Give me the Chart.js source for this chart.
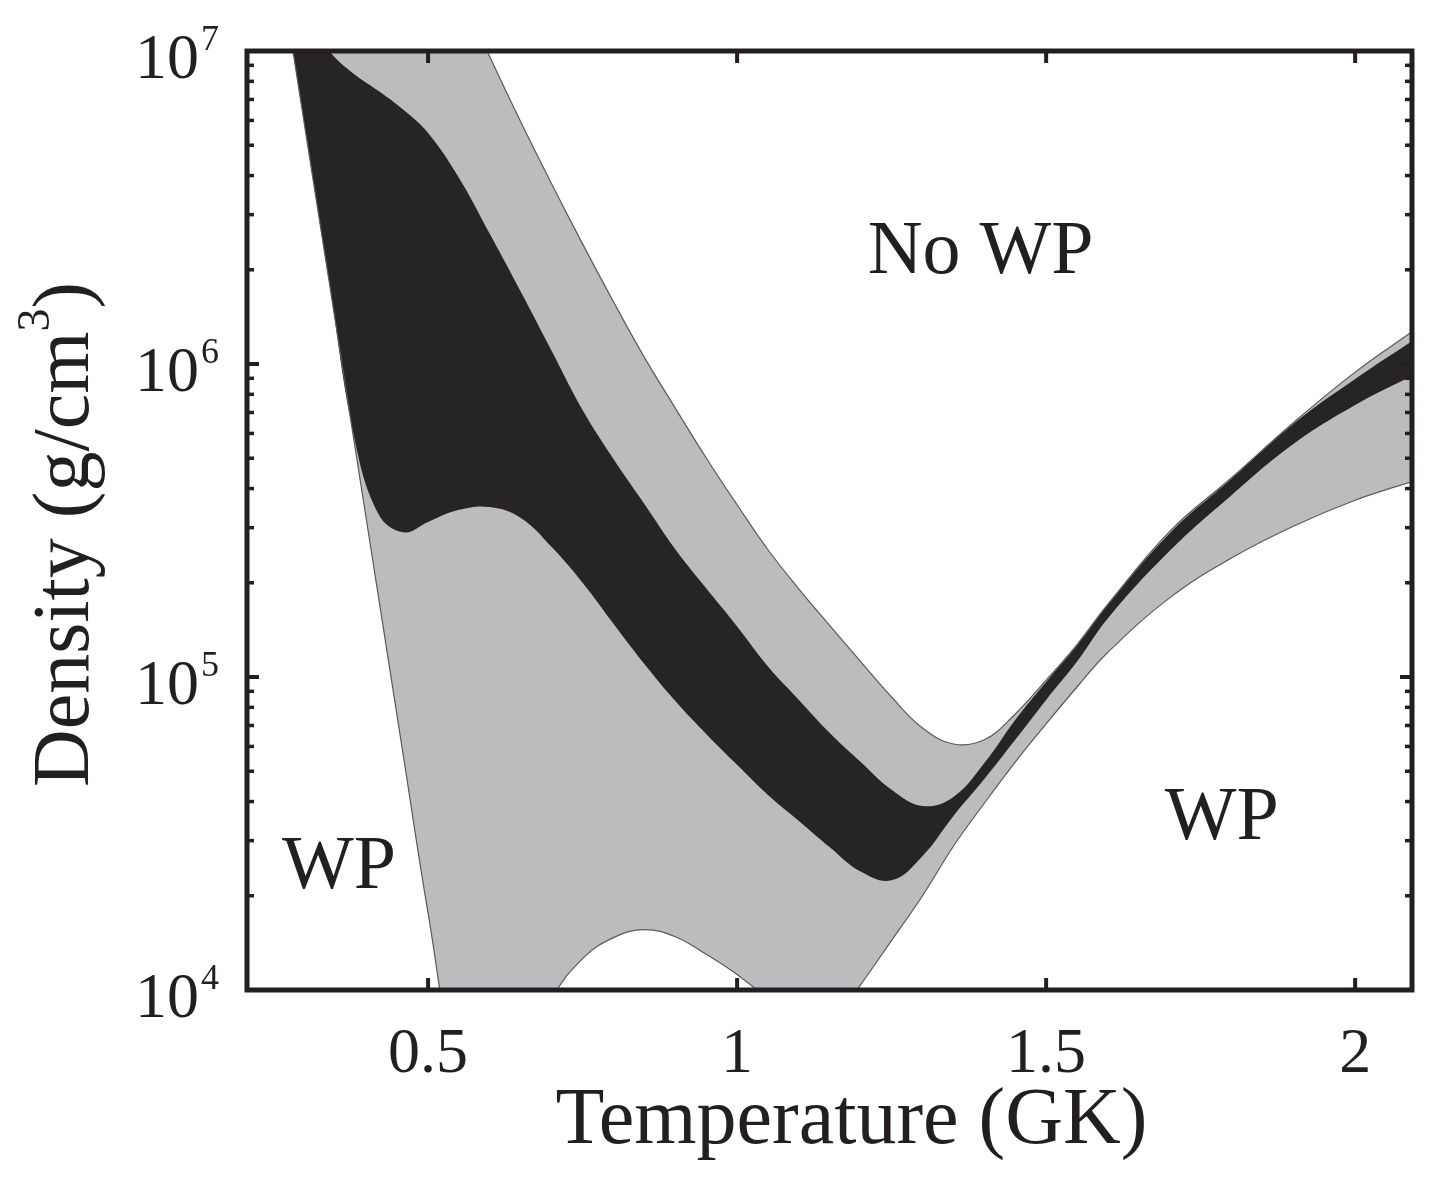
<!DOCTYPE html>
<html>
<head>
<meta charset="utf-8">
<title>WP region</title>
<script src="https://cdn.jsdelivr.net/npm/chart.js@4.4.0/dist/chart.umd.min.js"></script>
<style>
  html, body { margin: 0; padding: 0; background: #fff; }
  #wrap { width: 1454px; height: 1183px; }
  canvas { background: #fff; }
</style>
</head>
<body>
<div id="wrap"><canvas id="wp-chart" width="1454" height="1183"></canvas></div>
<script>
// temperature grid (GK) shared by all four boundary curves
const temperature = [0.27, 0.30, 0.34, 0.38, 0.42, 0.46, 0.50, 0.55, 0.60, 0.65, 0.70, 0.75, 0.80, 0.85, 0.90, 0.95, 1.00,
    1.05, 1.10, 1.15, 1.20, 1.25, 1.30, 1.35, 1.40, 1.45, 1.50, 1.55, 1.60, 1.70, 1.80, 1.90, 2.00, 2.10];

// outer (gray) band, density in g/cm3 - values outside 1e4..1e7 run off the frame
const grayUpper = [1.58e8, 1.26e8, 1.0e8, 7.08e7, 5.01e7, 3.55e7, 2.51e7, 1.58e7, 9.57e6, 5.93e6, 3.76e6, 2.42e6, 1.58e6,
    1.05e6, 7.23e5, 5.01e5, 3.55e5, 2.55e5, 1.91e5, 1.46e5, 1.12e5, 8.63e4, 6.87e4, 6.11e4, 6.30e4, 7.62e4, 9.77e4,
    1.27e5, 1.71e5, 2.92e5, 4.33e5, 6.49e5, 9.42e5, 1.30e6];
const grayLower = [1.39e7, 5.81e6, 1.83e6, 5.71e5, 1.79e5, 5.60e4, 1.76e4, 5.0e3, 3.2e3, 5.0e3, 9.3e3, 1.26e4, 1.47e4,
    1.56e4, 1.48e4, 1.30e4, 1.12e4, 9.3e3, 7.2e3, 7.6e3, 1.04e4, 1.44e4, 2.0e4, 2.88e4, 3.95e4, 5.35e4, 7.08e4,
    9.29e4, 1.20e5, 1.79e5, 2.40e5, 3.03e5, 3.67e5, 4.26e5];

// inner (black) band
const blackUpper = [1.78e7, 1.32e7, 1.0e7, 8.45e6, 7.45e6, 6.49e6, 5.47e6, 3.93e6, 2.60e6, 1.70e6, 1.10e6, 7.13e5, 4.97e5,
    3.57e5, 2.56e5, 1.92e5, 1.45e5, 1.08e5, 8.45e4, 6.62e4, 5.35e4, 4.36e4, 3.87e4, 4.14e4, 5.31e4, 7.29e4, 9.64e4,
    1.26e5, 1.70e5, 2.88e5, 4.30e5, 6.43e5, 8.95e5, 1.21e6];
const blackLower = [1.39e7, 5.81e6, 1.83e6, 5.89e5, 3.31e5, 2.90e5, 3.13e5, 3.42e5, 3.49e5, 3.22e5, 2.60e5, 2.00e5, 1.48e5,
    1.10e5, 8.38e4, 6.58e4, 5.24e4, 4.20e4, 3.47e4, 2.86e4, 2.39e4, 2.24e4, 2.68e4, 3.60e4, 4.72e4, 6.30e4, 8.45e4,
    1.12e5, 1.54e5, 2.53e5, 3.81e5, 5.55e5, 7.40e5, 9.35e5];

const xTicks = [0.5, 1, 1.5, 2];
const yDecades = [4, 5, 6, 7];

// region names, anchored in data coordinates (T in GK, density in g/cm3)
const regionLabels = [
    { text: 'No WP', t: 1.394, rho: 1.95e6 },
    { text: 'WP', t: 0.356, rho: 2.12e4 },
    { text: 'WP', t: 1.784, rho: 3.03e4 }
];

const ink = '#231f20';
const serif = '"Liberation Serif", "Times New Roman", serif';

function pts(values) {
    return temperature.map((t, i) => ({ x: t, y: values[i] }));
}

// frame, inward ticks, 10^n labels, axis titles and region names
const framePlugin = {
    id: 'frame',
    afterDatasetsDraw(chart) {
        const { ctx, chartArea: a, scales } = chart;
        const x = scales.x, y = scales.y;
        ctx.save();
        ctx.strokeStyle = ink;
        ctx.fillStyle = ink;
        ctx.lineCap = 'butt';

        const hTick = (px, py, len) => {
            ctx.beginPath(); ctx.moveTo(px, py); ctx.lineTo(px + len, py); ctx.stroke();
        };
        const vTick = (px, py, len) => {
            ctx.beginPath(); ctx.moveTo(px, py); ctx.lineTo(px, py + len); ctx.stroke();
        };

        yDecades.forEach(k => {
            const py = y.getPixelForValue(Math.pow(10, k));
            ctx.lineWidth = 4;
            hTick(a.left, py, 12);
            hTick(a.right, py, -12);
            if (k < 7) {
                ctx.lineWidth = 3.5;
                for (let m = 2; m <= 9; m++) {
                    const pm = y.getPixelForValue(m * Math.pow(10, k));
                    hTick(a.left, pm, 7);
                    hTick(a.right, pm, -7);
                }
            }
        });
        ctx.lineWidth = 4;
        xTicks.forEach(v => {
            const px = x.getPixelForValue(v);
            vTick(px, a.bottom, -12);
            vTick(px, a.top, 12);
        });

        ctx.lineWidth = 5;
        ctx.lineJoin = 'miter';
        ctx.strokeRect(a.left, a.top, a.right - a.left, a.bottom - a.top);

        // y tick labels with superscript exponents
        ctx.textBaseline = 'alphabetic';
        yDecades.forEach(k => {
            const py = y.getPixelForValue(Math.pow(10, k));
            ctx.font = '64px ' + serif;
            ctx.textAlign = 'right';
            ctx.fillText('10', a.left - 48, py + 27);
            ctx.font = '36px ' + serif;
            ctx.textAlign = 'left';
            ctx.fillText(String(k), a.left - 46, py - 1);
        });

        // x title
        ctx.font = '80px ' + serif;
        ctx.textAlign = 'center';
        ctx.fillText('Temperature (GK)', (a.left + a.right) / 2 + 22, a.bottom + 153);

        // y title, rotated, with raised 3
        const partA = 'Density (g/cm', partB = '3', partC = ')';
        ctx.font = '80px ' + serif;
        const wA = ctx.measureText(partA).width;
        const wC = ctx.measureText(partC).width;
        ctx.font = '46px ' + serif;
        const wB = ctx.measureText(partB).width;
        const total = wA + wB + wC;
        ctx.save();
        ctx.translate(a.left - 159, (a.top + a.bottom) / 2 + 14 + total / 2);
        ctx.rotate(-Math.PI / 2);
        ctx.textAlign = 'left';
        ctx.font = '80px ' + serif;
        ctx.fillText(partA, 0, 0);
        ctx.font = '46px ' + serif;
        ctx.fillText(partB, wA, -39);
        ctx.font = '80px ' + serif;
        ctx.fillText(partC, wA + wB, 0);
        ctx.restore();

        // region names
        ctx.font = '76px ' + serif;
        ctx.textAlign = 'center';
        regionLabels.forEach(r => {
            ctx.fillText(r.text, x.getPixelForValue(r.t), y.getPixelForValue(r.rho));
        });
        ctx.restore();
    }
};

new Chart(document.getElementById('wp-chart'), {
    type: 'line',
    data: {
        datasets: [
            { label: 'gray upper edge', data: pts(grayUpper), borderColor: '#5a5a5c', borderWidth: 1.2, fill: false, order: 0 },
            { label: 'gray lower edge', data: pts(grayLower), borderColor: '#5a5a5c', borderWidth: 1.2, fill: false, order: 0 },
            { label: 'black band', data: pts(blackUpper), borderColor: 'transparent', borderWidth: 0, backgroundColor: '#262425', fill: 3, order: 1 },
            { label: 'black lower', data: pts(blackLower), borderColor: 'transparent', borderWidth: 0, fill: false, order: 1 },
            { label: 'gray band', data: pts(grayUpper), borderColor: 'transparent', borderWidth: 0, backgroundColor: '#bbbcbe', fill: 5, order: 2 },
            { label: 'gray lower', data: pts(grayLower), borderColor: 'transparent', borderWidth: 0, fill: false, order: 2 }
        ]
    },
    options: {
        responsive: false,
        animation: false,
        events: [],
        layout: { padding: { top: 51, right: 42, left: 0, bottom: 0 } },
        elements: {
            point: { radius: 0 },
            line: { tension: 0.4, capBezierPoints: false }
        },
        plugins: {
            legend: { display: false },
            tooltip: { enabled: false }
        },
        scales: {
            x: {
                type: 'linear',
                min: 0.207,
                max: 2.092,
                grid: { display: false, drawTicks: false },
                border: { display: false },
                afterBuildTicks: (scale) => { scale.ticks = xTicks.map(v => ({ value: v })); },
                afterFit: (scale) => { scale.height = 193; },
                ticks: {
                    font: { family: serif, size: 64 },
                    color: ink,
                    padding: 27,
                    maxRotation: 0,
                    autoSkip: false,
                    callback: (v) => String(v)
                }
            },
            y: {
                type: 'logarithmic',
                min: 1e4,
                max: 1e7,
                grid: { display: false, drawTicks: false },
                border: { display: false },
                ticks: { display: false },
                afterFit: (scale) => { scale.width = 247; }
            }
        }
    },
    plugins: [framePlugin]
});
</script>
</body>
</html>
